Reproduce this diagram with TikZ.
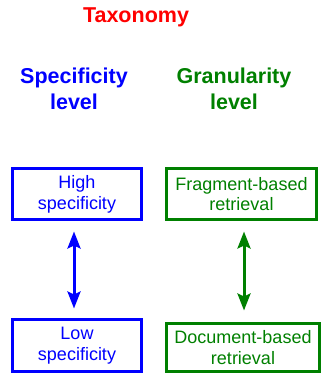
\documentclass[tikz,border=0pt]{standalone}
\usepackage{fontspec}
\setmainfont{Liberation Sans}
\usetikzlibrary{arrows.meta}
\definecolor{tgreen}{RGB}{0,128,0}
\tikzset{
  heading/.style={font=\fontsize{21.5}{26}\selectfont\bfseries, align=center},
  levelbox/.style={draw, line width=3pt, align=center, inner sep=0pt,
    font=\fontsize{18}{20.7}\selectfont},
  levelarrow/.style={line width=3pt, {Stealth[length=17pt,width=13pt,inset=3pt]}-{Stealth[length=17pt,width=13pt,inset=3pt]}}
}
\begin{document}
\begin{tikzpicture}[x=1pt,y=-1pt]
\useasboundingbox (0,0) rectangle (326,374);

\node[heading, red, anchor=base] (tax) at (136,22.5) {Taxonomy};
\node[heading, blue] (spec) at (74,89) {Specificity\\level};
\node[heading, tgreen] (gran) at (234,89) {Granularity\\level};

\node[levelbox, blue, minimum width=129pt, minimum height=51pt] (high) at (77,194) {High\\specificity};
\node[levelbox, blue, minimum width=129pt, minimum height=52pt] (low) at (77,345.5) {Low\\specificity};
\node[levelbox, tgreen, minimum width=150pt, minimum height=51pt] (frag) at (241.5,194) {Fragment-based\\retrieval};
\node[levelbox, tgreen, minimum width=153pt, minimum height=48pt] (doc) at (243,347.5) {Document-based\\retrieval};

\draw[levelarrow, blue, shorten <=10.5pt, shorten >=9.5pt] ([xshift=-3pt]high.south) -- ([xshift=-3pt]high.south |- low.north);
\draw[levelarrow, tgreen, shorten <=10.5pt, shorten >=11.5pt] ([xshift=2.5pt]frag.south) -- ([xshift=2.5pt]frag.south |- doc.north);
\end{tikzpicture}
\end{document}
